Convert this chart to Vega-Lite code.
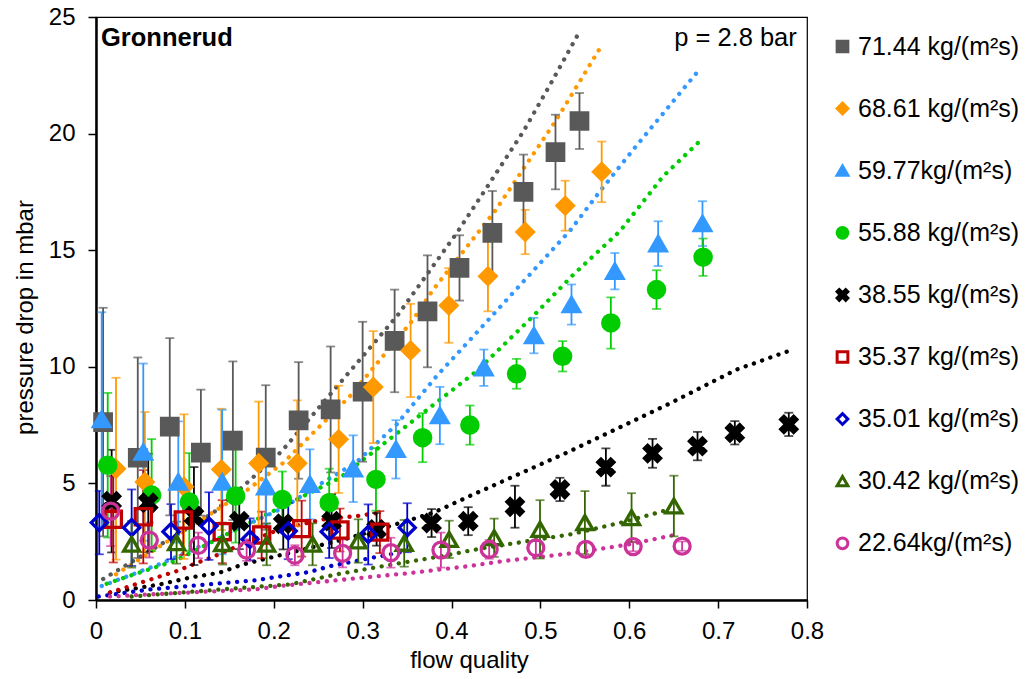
{
  "$schema": "https://vega.github.io/schema/vega-lite/v6.json",
  "width": 711,
  "height": 583,
  "autosize": {"type": "none"},
  "padding": {"left": 96, "top": 17, "right": 220, "bottom": 79},
  "background": "white",
  "datasets": {
    "pts": [
      {"s": "71.44 kg/(m²s)", "x": 0.008, "y": 7.63, "e": 4.9},
      {"s": "71.44 kg/(m²s)", "x": 0.047, "y": 6.10, "e": 4.3},
      {"s": "71.44 kg/(m²s)", "x": 0.083, "y": 7.43, "e": 3.8},
      {"s": "71.44 kg/(m²s)", "x": 0.118, "y": 6.32, "e": 2.7},
      {"s": "71.44 kg/(m²s)", "x": 0.154, "y": 6.83, "e": 3.4},
      {"s": "71.44 kg/(m²s)", "x": 0.191, "y": 6.11, "e": 3.1},
      {"s": "71.44 kg/(m²s)", "x": 0.228, "y": 7.70, "e": 2.5},
      {"s": "71.44 kg/(m²s)", "x": 0.264, "y": 8.17, "e": 2.7},
      {"s": "71.44 kg/(m²s)", "x": 0.300, "y": 8.93, "e": 3.0},
      {"s": "71.44 kg/(m²s)", "x": 0.336, "y": 11.11, "e": 2.2},
      {"s": "71.44 kg/(m²s)", "x": 0.373, "y": 12.38, "e": 2.4},
      {"s": "71.44 kg/(m²s)", "x": 0.409, "y": 14.24, "e": 1.4},
      {"s": "71.44 kg/(m²s)", "x": 0.446, "y": 15.74, "e": 1.8},
      {"s": "71.44 kg/(m²s)", "x": 0.481, "y": 17.50, "e": 1.6},
      {"s": "71.44 kg/(m²s)", "x": 0.517, "y": 19.21, "e": 1.6},
      {"s": "71.44 kg/(m²s)", "x": 0.544, "y": 20.54, "e": 1.2},
      {"s": "68.61 kg/(m²s)", "x": 0.0225, "y": 5.63, "e": 3.9},
      {"s": "68.61 kg/(m²s)", "x": 0.055, "y": 5.06, "e": 3.0},
      {"s": "68.61 kg/(m²s)", "x": 0.099, "y": 4.86, "e": 3.1},
      {"s": "68.61 kg/(m²s)", "x": 0.141, "y": 5.60, "e": 2.6},
      {"s": "68.61 kg/(m²s)", "x": 0.183, "y": 5.86, "e": 2.65},
      {"s": "68.61 kg/(m²s)", "x": 0.2265, "y": 5.86, "e": 2.7},
      {"s": "68.61 kg/(m²s)", "x": 0.273, "y": 6.89, "e": 2.3},
      {"s": "68.61 kg/(m²s)", "x": 0.312, "y": 9.13, "e": 2.4},
      {"s": "68.61 kg/(m²s)", "x": 0.354, "y": 10.70, "e": 2.0},
      {"s": "68.61 kg/(m²s)", "x": 0.397, "y": 12.63, "e": 1.6},
      {"s": "68.61 kg/(m²s)", "x": 0.441, "y": 13.88, "e": 1.5},
      {"s": "68.61 kg/(m²s)", "x": 0.483, "y": 15.78, "e": 0.95},
      {"s": "68.61 kg/(m²s)", "x": 0.528, "y": 16.91, "e": 1.07},
      {"s": "68.61 kg/(m²s)", "x": 0.569, "y": 18.36, "e": 1.3},
      {"s": "59.77kg/(m²s)", "x": 0.0064, "y": 7.74, "e": 4.6},
      {"s": "59.77kg/(m²s)", "x": 0.0532, "y": 6.34, "e": 3.8},
      {"s": "59.77kg/(m²s)", "x": 0.0926, "y": 5.06, "e": 2.6},
      {"s": "59.77kg/(m²s)", "x": 0.142, "y": 5.06, "e": 3.1},
      {"s": "59.77kg/(m²s)", "x": 0.1912, "y": 4.86, "e": 1.6},
      {"s": "59.77kg/(m²s)", "x": 0.2407, "y": 4.96, "e": 1.5},
      {"s": "59.77kg/(m²s)", "x": 0.2894, "y": 5.63, "e": 1.43},
      {"s": "59.77kg/(m²s)", "x": 0.3375, "y": 6.46, "e": 1.25},
      {"s": "59.77kg/(m²s)", "x": 0.3869, "y": 7.91, "e": 1.23},
      {"s": "59.77kg/(m²s)", "x": 0.4364, "y": 9.96, "e": 0.78},
      {"s": "59.77kg/(m²s)", "x": 0.4927, "y": 11.34, "e": 0.76},
      {"s": "59.77kg/(m²s)", "x": 0.535, "y": 12.67, "e": 0.86},
      {"s": "59.77kg/(m²s)", "x": 0.5838, "y": 14.10, "e": 0.78},
      {"s": "59.77kg/(m²s)", "x": 0.6325, "y": 15.28, "e": 0.96},
      {"s": "59.77kg/(m²s)", "x": 0.6824, "y": 16.14, "e": 0.96},
      {"s": "55.88 kg/(m²s)", "x": 0.0132, "y": 5.78, "e": 3.1},
      {"s": "55.88 kg/(m²s)", "x": 0.0626, "y": 4.50, "e": 2.4},
      {"s": "55.88 kg/(m²s)", "x": 0.105, "y": 4.20, "e": 2.1},
      {"s": "55.88 kg/(m²s)", "x": 0.1571, "y": 4.46, "e": 2.0},
      {"s": "55.88 kg/(m²s)", "x": 0.2096, "y": 4.31, "e": 1.2},
      {"s": "55.88 kg/(m²s)", "x": 0.2624, "y": 4.17, "e": 1.46},
      {"s": "55.88 kg/(m²s)", "x": 0.315, "y": 5.17, "e": 1.34},
      {"s": "55.88 kg/(m²s)", "x": 0.3675, "y": 6.96, "e": 1.05},
      {"s": "55.88 kg/(m²s)", "x": 0.4207, "y": 7.50, "e": 0.84},
      {"s": "55.88 kg/(m²s)", "x": 0.4732, "y": 9.70, "e": 0.64},
      {"s": "55.88 kg/(m²s)", "x": 0.525, "y": 10.45, "e": 0.65},
      {"s": "55.88 kg/(m²s)", "x": 0.5793, "y": 11.88, "e": 1.1},
      {"s": "55.88 kg/(m²s)", "x": 0.6307, "y": 13.31, "e": 0.83},
      {"s": "55.88 kg/(m²s)", "x": 0.6831, "y": 14.70, "e": 0.8},
      {"s": "38.55 kg/(m²s)", "x": 0.0176, "y": 4.24, "e": 2.2},
      {"s": "38.55 kg/(m²s)", "x": 0.0588, "y": 4.17, "e": 2.1},
      {"s": "38.55 kg/(m²s)", "x": 0.1102, "y": 3.60, "e": 2.1},
      {"s": "38.55 kg/(m²s)", "x": 0.1612, "y": 3.38, "e": 1.2},
      {"s": "38.55 kg/(m²s)", "x": 0.2107, "y": 3.27, "e": 1.1},
      {"s": "38.55 kg/(m²s)", "x": 0.2651, "y": 3.38, "e": 1.15},
      {"s": "38.55 kg/(m²s)", "x": 0.3157, "y": 3.03, "e": 0.7},
      {"s": "38.55 kg/(m²s)", "x": 0.3776, "y": 3.30, "e": 0.6},
      {"s": "38.55 kg/(m²s)", "x": 0.4188, "y": 3.38, "e": 0.6},
      {"s": "38.55 kg/(m²s)", "x": 0.4714, "y": 4.00, "e": 0.9},
      {"s": "38.55 kg/(m²s)", "x": 0.522, "y": 4.74, "e": 0.5},
      {"s": "38.55 kg/(m²s)", "x": 0.5737, "y": 5.70, "e": 0.8},
      {"s": "38.55 kg/(m²s)", "x": 0.6262, "y": 6.29, "e": 0.62},
      {"s": "38.55 kg/(m²s)", "x": 0.6768, "y": 6.60, "e": 0.61},
      {"s": "38.55 kg/(m²s)", "x": 0.7188, "y": 7.17, "e": 0.5},
      {"s": "38.55 kg/(m²s)", "x": 0.7795, "y": 7.53, "e": 0.5},
      {"s": "35.37 kg/(m²s)", "x": 0.0195, "y": 3.46, "e": 1.85},
      {"s": "35.37 kg/(m²s)", "x": 0.0532, "y": 3.57, "e": 2.0},
      {"s": "35.37 kg/(m²s)", "x": 0.0982, "y": 3.43, "e": 1.5},
      {"s": "35.37 kg/(m²s)", "x": 0.142, "y": 2.93, "e": 1.35},
      {"s": "35.37 kg/(m²s)", "x": 0.1864, "y": 2.79, "e": 1.0},
      {"s": "35.37 kg/(m²s)", "x": 0.2314, "y": 3.06, "e": 1.2},
      {"s": "35.37 kg/(m²s)", "x": 0.2745, "y": 3.00, "e": 0.92},
      {"s": "35.37 kg/(m²s)", "x": 0.3194, "y": 2.91, "e": 0.9},
      {"s": "35.01 kg/(m²s)", "x": 0.0037, "y": 3.32, "e": 1.36},
      {"s": "35.01 kg/(m²s)", "x": 0.0401, "y": 3.10, "e": 1.64},
      {"s": "35.01 kg/(m²s)", "x": 0.0844, "y": 2.93, "e": 1.18},
      {"s": "35.01 kg/(m²s)", "x": 0.1271, "y": 3.17, "e": 1.45},
      {"s": "35.01 kg/(m²s)", "x": 0.1732, "y": 2.60, "e": 0.9},
      {"s": "35.01 kg/(m²s)", "x": 0.2163, "y": 2.96, "e": 1.21},
      {"s": "35.01 kg/(m²s)", "x": 0.2624, "y": 2.93, "e": 1.13},
      {"s": "35.01 kg/(m²s)", "x": 0.3063, "y": 2.81, "e": 1.29},
      {"s": "35.01 kg/(m²s)", "x": 0.3502, "y": 3.10, "e": 1.05},
      {"s": "30.42 kg/(m²s)", "x": 0.0401, "y": 2.39, "e": 1.0},
      {"s": "30.42 kg/(m²s)", "x": 0.0907, "y": 2.46, "e": 0.9},
      {"s": "30.42 kg/(m²s)", "x": 0.1425, "y": 2.42, "e": 0.9},
      {"s": "30.42 kg/(m²s)", "x": 0.192, "y": 2.39, "e": 0.9},
      {"s": "30.42 kg/(m²s)", "x": 0.2437, "y": 2.39, "e": 0.9},
      {"s": "30.42 kg/(m²s)", "x": 0.2951, "y": 2.53, "e": 0.93},
      {"s": "30.42 kg/(m²s)", "x": 0.3468, "y": 2.43, "e": 1.0},
      {"s": "30.42 kg/(m²s)", "x": 0.3974, "y": 2.60, "e": 0.8},
      {"s": "30.42 kg/(m²s)", "x": 0.448, "y": 2.67, "e": 0.82},
      {"s": "30.42 kg/(m²s)", "x": 0.4996, "y": 3.03, "e": 1.25},
      {"s": "30.42 kg/(m²s)", "x": 0.5501, "y": 3.32, "e": 1.35},
      {"s": "30.42 kg/(m²s)", "x": 0.6026, "y": 3.53, "e": 1.05},
      {"s": "30.42 kg/(m²s)", "x": 0.6502, "y": 4.03, "e": 1.3},
      {"s": "22.64kg/(m²s)", "x": 0.0165, "y": 3.81, "e": 1.5},
      {"s": "22.64kg/(m²s)", "x": 0.06, "y": 2.57, "e": 0.75},
      {"s": "22.64kg/(m²s)", "x": 0.1151, "y": 2.34, "e": 0.55},
      {"s": "22.64kg/(m²s)", "x": 0.1695, "y": 2.14, "e": 0.46},
      {"s": "22.64kg/(m²s)", "x": 0.2238, "y": 1.92, "e": 0.43},
      {"s": "22.64kg/(m²s)", "x": 0.2775, "y": 2.00, "e": 0.6},
      {"s": "22.64kg/(m²s)", "x": 0.3318, "y": 2.03, "e": 0.64},
      {"s": "22.64kg/(m²s)", "x": 0.3881, "y": 2.14, "e": 0.75},
      {"s": "22.64kg/(m²s)", "x": 0.4424, "y": 2.17, "e": 0.4},
      {"s": "22.64kg/(m²s)", "x": 0.4949, "y": 2.24, "e": 0.3},
      {"s": "22.64kg/(m²s)", "x": 0.5512, "y": 2.17, "e": 0.3},
      {"s": "22.64kg/(m²s)", "x": 0.6044, "y": 2.29, "e": 0.2},
      {"s": "22.64kg/(m²s)", "x": 0.6595, "y": 2.31, "e": 0.2}
    ],
    "fit": [
      {"s": "71.44 kg/(m²s)", "x": 0.008, "y": 0.9},
      {"s": "71.44 kg/(m²s)", "x": 0.132, "y": 3.74},
      {"s": "71.44 kg/(m²s)", "x": 0.168, "y": 4.96},
      {"s": "71.44 kg/(m²s)", "x": 0.209, "y": 6.38},
      {"s": "71.44 kg/(m²s)", "x": 0.339, "y": 12.19},
      {"s": "71.44 kg/(m²s)", "x": 0.406, "y": 15.74},
      {"s": "71.44 kg/(m²s)", "x": 0.443, "y": 17.88},
      {"s": "71.44 kg/(m²s)", "x": 0.481, "y": 20.1},
      {"s": "71.44 kg/(m²s)", "x": 0.511, "y": 22.1},
      {"s": "71.44 kg/(m²s)", "x": 0.541, "y": 24.16},
      {"s": "68.61 kg/(m²s)", "x": 0.0225, "y": 1.1},
      {"s": "68.61 kg/(m²s)", "x": 0.166, "y": 4.6},
      {"s": "68.61 kg/(m²s)", "x": 0.211, "y": 5.89},
      {"s": "68.61 kg/(m²s)", "x": 0.2445, "y": 7.17},
      {"s": "68.61 kg/(m²s)", "x": 0.2857, "y": 8.74},
      {"s": "68.61 kg/(m²s)", "x": 0.357, "y": 12.03},
      {"s": "68.61 kg/(m²s)", "x": 0.3794, "y": 13.31},
      {"s": "68.61 kg/(m²s)", "x": 0.4488, "y": 16.67},
      {"s": "68.61 kg/(m²s)", "x": 0.5182, "y": 20.6},
      {"s": "68.61 kg/(m²s)", "x": 0.5688, "y": 23.77},
      {"s": "59.77kg/(m²s)", "x": 0.0064, "y": 0.6},
      {"s": "59.77kg/(m²s)", "x": 0.0757, "y": 1.6},
      {"s": "59.77kg/(m²s)", "x": 0.14, "y": 2.7},
      {"s": "59.77kg/(m²s)", "x": 0.211, "y": 3.96},
      {"s": "59.77kg/(m²s)", "x": 0.2482, "y": 4.88},
      {"s": "59.77kg/(m²s)", "x": 0.2925, "y": 5.89},
      {"s": "59.77kg/(m²s)", "x": 0.3382, "y": 7.53},
      {"s": "59.77kg/(m²s)", "x": 0.3832, "y": 9.6},
      {"s": "59.77kg/(m²s)", "x": 0.4282, "y": 11.46},
      {"s": "59.77kg/(m²s)", "x": 0.534, "y": 15.87},
      {"s": "59.77kg/(m²s)", "x": 0.5669, "y": 17.52},
      {"s": "59.77kg/(m²s)", "x": 0.6044, "y": 19.31},
      {"s": "59.77kg/(m²s)", "x": 0.6757, "y": 22.6},
      {"s": "55.88 kg/(m²s)", "x": 0.012, "y": 0.7},
      {"s": "55.88 kg/(m²s)", "x": 0.09, "y": 1.7},
      {"s": "55.88 kg/(m²s)", "x": 0.1507, "y": 2.89},
      {"s": "55.88 kg/(m²s)", "x": 0.22, "y": 4.2},
      {"s": "55.88 kg/(m²s)", "x": 0.2745, "y": 5.24},
      {"s": "55.88 kg/(m²s)", "x": 0.325, "y": 6.74},
      {"s": "55.88 kg/(m²s)", "x": 0.3776, "y": 8.31},
      {"s": "55.88 kg/(m²s)", "x": 0.4282, "y": 9.81},
      {"s": "55.88 kg/(m²s)", "x": 0.4919, "y": 12.17},
      {"s": "55.88 kg/(m²s)", "x": 0.537, "y": 13.95},
      {"s": "55.88 kg/(m²s)", "x": 0.5894, "y": 15.81},
      {"s": "55.88 kg/(m²s)", "x": 0.6381, "y": 18.17},
      {"s": "55.88 kg/(m²s)", "x": 0.6831, "y": 19.81},
      {"s": "38.55 kg/(m²s)", "x": 0.0157, "y": 0.32},
      {"s": "38.55 kg/(m²s)", "x": 0.072, "y": 0.67},
      {"s": "38.55 kg/(m²s)", "x": 0.1057, "y": 0.96},
      {"s": "38.55 kg/(m²s)", "x": 0.139, "y": 1.17},
      {"s": "38.55 kg/(m²s)", "x": 0.1657, "y": 1.53},
      {"s": "38.55 kg/(m²s)", "x": 0.282, "y": 2.63},
      {"s": "38.55 kg/(m²s)", "x": 0.3307, "y": 3.17},
      {"s": "38.55 kg/(m²s)", "x": 0.3794, "y": 3.74},
      {"s": "38.55 kg/(m²s)", "x": 0.4207, "y": 4.46},
      {"s": "38.55 kg/(m²s)", "x": 0.5332, "y": 6.38},
      {"s": "38.55 kg/(m²s)", "x": 0.6457, "y": 8.43},
      {"s": "38.55 kg/(m²s)", "x": 0.7207, "y": 9.88},
      {"s": "38.55 kg/(m²s)", "x": 0.7788, "y": 10.67},
      {"s": "35.37 kg/(m²s)", "x": 0.0157, "y": 0.32},
      {"s": "35.37 kg/(m²s)", "x": 0.0907, "y": 1.24},
      {"s": "35.37 kg/(m²s)", "x": 0.1357, "y": 1.92},
      {"s": "35.37 kg/(m²s)", "x": 0.1732, "y": 2.53},
      {"s": "35.37 kg/(m²s)", "x": 0.207, "y": 3.03},
      {"s": "35.37 kg/(m²s)", "x": 0.2557, "y": 3.46},
      {"s": "35.37 kg/(m²s)", "x": 0.2932, "y": 3.6},
      {"s": "35.37 kg/(m²s)", "x": 0.32, "y": 3.75},
      {"s": "35.01 kg/(m²s)", "x": 0.003, "y": 0.15},
      {"s": "35.01 kg/(m²s)", "x": 0.06, "y": 0.45},
      {"s": "35.01 kg/(m²s)", "x": 0.12, "y": 0.65},
      {"s": "35.01 kg/(m²s)", "x": 0.18, "y": 0.85},
      {"s": "35.01 kg/(m²s)", "x": 0.21, "y": 1.03},
      {"s": "35.01 kg/(m²s)", "x": 0.24, "y": 1.2},
      {"s": "35.01 kg/(m²s)", "x": 0.2632, "y": 1.45},
      {"s": "35.01 kg/(m²s)", "x": 0.3157, "y": 1.85},
      {"s": "35.01 kg/(m²s)", "x": 0.35, "y": 2.1},
      {"s": "30.42 kg/(m²s)", "x": 0.04, "y": 0.15},
      {"s": "30.42 kg/(m²s)", "x": 0.1432, "y": 0.46},
      {"s": "30.42 kg/(m²s)", "x": 0.2182, "y": 0.67},
      {"s": "30.42 kg/(m²s)", "x": 0.2707, "y": 1.1},
      {"s": "30.42 kg/(m²s)", "x": 0.3344, "y": 1.53},
      {"s": "30.42 kg/(m²s)", "x": 0.3907, "y": 1.89},
      {"s": "30.42 kg/(m²s)", "x": 0.432, "y": 2.2},
      {"s": "30.42 kg/(m²s)", "x": 0.5332, "y": 2.81},
      {"s": "30.42 kg/(m²s)", "x": 0.5932, "y": 3.34},
      {"s": "30.42 kg/(m²s)", "x": 0.6457, "y": 3.89},
      {"s": "22.64kg/(m²s)", "x": 0.0157, "y": 0.15},
      {"s": "22.64kg/(m²s)", "x": 0.087, "y": 0.29},
      {"s": "22.64kg/(m²s)", "x": 0.181, "y": 0.46},
      {"s": "22.64kg/(m²s)", "x": 0.207, "y": 0.6},
      {"s": "22.64kg/(m²s)", "x": 0.282, "y": 0.89},
      {"s": "22.64kg/(m²s)", "x": 0.357, "y": 1.17},
      {"s": "22.64kg/(m²s)", "x": 0.4207, "y": 1.46},
      {"s": "22.64kg/(m²s)", "x": 0.4582, "y": 1.67},
      {"s": "22.64kg/(m²s)", "x": 0.5332, "y": 1.99},
      {"s": "22.64kg/(m²s)", "x": 0.6007, "y": 2.39},
      {"s": "22.64kg/(m²s)", "x": 0.6532, "y": 2.81}
    ],
    "notes": [
      {"label": "Gronnerud", "x": 0.0056, "y": 23.77, "kind": "name"},
      {"label": "p = 2.8 bar", "x": 0.7885, "y": 23.77, "kind": "pressure"}
    ]
  },
  "encoding": {
    "x": {"field": "x", "type": "quantitative", "scale": {"domain": [0, 0.8], "nice": false, "zero": false},
          "axis": {"title": "flow quality", "values": [0, 0.1, 0.2, 0.3, 0.4, 0.5, 0.6, 0.7, 0.8], "format": ".1~f", "titleX": 373}},
    "y": {"field": "y", "type": "quantitative", "scale": {"domain": [0, 25], "nice": false},
          "axis": {"title": "pressure drop in mbar", "values": [0, 5, 10, 15, 20, 25], "format": "d", "titleY": 300}}
  },
  "layer": [
    {
      "data": {"name": "fit"},
      "mark": {"type": "line", "strokeDash": [0.1, 8.6], "strokeCap": "round", "strokeWidth": 4.3},
      "encoding": {
        "color": {"field": "s", "type": "nominal", "legend": null,
          "scale": {"domain": ["22.64kg/(m²s)", "30.42 kg/(m²s)", "35.01 kg/(m²s)", "35.37 kg/(m²s)", "38.55 kg/(m²s)", "55.88 kg/(m²s)", "59.77kg/(m²s)", "68.61 kg/(m²s)", "71.44 kg/(m²s)"],
                    "range": ["#CC3399", "#336600", "#0000CC", "#C00000", "#000000", "#00CC00", "#3399FF", "#FF9900", "#595959"]}}
      }
    },
    {
      "data": {"name": "pts"},
      "mark": {"type": "errorbar", "ticks": {"size": 9, "thickness": 1.8}, "rule": {"strokeWidth": 1.8}},
      "encoding": {
        "yError": {"field": "e"},
        "color": {"field": "s", "type": "nominal", "legend": null}
      }
    },
    {
      "data": {"name": "pts"},
      "mark": {"type": "point", "filled": true, "strokeWidth": 3.3, "opacity": 1},
      "encoding": {
        "fill": {"field": "s", "type": "nominal",
          "scale": {"domain": ["71.44 kg/(m²s)", "68.61 kg/(m²s)", "59.77kg/(m²s)", "55.88 kg/(m²s)", "38.55 kg/(m²s)", "35.37 kg/(m²s)", "35.01 kg/(m²s)", "30.42 kg/(m²s)", "22.64kg/(m²s)"],
                    "range": ["#595959", "#FF9900", "#3399FF", "#00CC00", "#000000", "transparent", "transparent", "transparent", "transparent"]},
          "legend": {"title": null, "orient": "none", "legendX": 734, "legendY": 17}},
        "stroke": {"field": "s", "type": "nominal",
          "scale": {"domain": ["71.44 kg/(m²s)", "68.61 kg/(m²s)", "59.77kg/(m²s)", "55.88 kg/(m²s)", "38.55 kg/(m²s)", "35.37 kg/(m²s)", "35.01 kg/(m²s)", "30.42 kg/(m²s)", "22.64kg/(m²s)"],
                    "range": ["#595959", "#FF9900", "#3399FF", "#00CC00", "#000000", "#C00000", "#0000CC", "#336600", "#CC3399"]},
          "legend": {"title": null, "orient": "none", "legendX": 734, "legendY": 17}},
        "shape": {"field": "s", "type": "nominal",
          "scale": {"domain": ["71.44 kg/(m²s)", "68.61 kg/(m²s)", "59.77kg/(m²s)", "55.88 kg/(m²s)", "38.55 kg/(m²s)", "35.37 kg/(m²s)", "35.01 kg/(m²s)", "30.42 kg/(m²s)", "22.64kg/(m²s)"],
                    "range": ["square", "diamond", "triangle-up", "circle", "M-1,-0.6L-0.6,-1L0,-0.4L0.6,-1L1,-0.6L0.4,0L1,0.6L0.6,1L0,0.4L-0.6,1L-1,0.6L-0.4,0Z", "square", "diamond", "triangle-up", "circle"]},
          "legend": {"title": null, "orient": "none", "legendX": 734, "legendY": 17}},
        "size": {"field": "s", "type": "ordinal", "legend": null,
          "scale": {"domain": ["22.64kg/(m²s)", "30.42 kg/(m²s)", "35.01 kg/(m²s)", "35.37 kg/(m²s)", "38.55 kg/(m²s)", "55.88 kg/(m²s)", "59.77kg/(m²s)", "68.61 kg/(m²s)", "71.44 kg/(m²s)"],
                    "range": [255, 270, 300, 250, 290, 170, 215, 200, 215]}}
      }
    },
    {
      "data": {"name": "notes"},
      "transform": [{"filter": "datum.kind === 'name'"}],
      "mark": {"type": "text", "align": "left", "baseline": "alphabetic", "font": "Liberation Sans", "fontSize": 25.5, "fontWeight": "bold", "color": "black"},
      "encoding": {
        "text": {"field": "label"}
      }
    },
    {
      "data": {"name": "notes"},
      "transform": [{"filter": "datum.kind === 'pressure'"}],
      "mark": {"type": "text", "align": "right", "baseline": "alphabetic", "font": "Liberation Sans", "fontSize": 25.5, "color": "black"},
      "encoding": {
        "text": {"field": "label"}
      }
    }
  ],
  "config": {
    "font": "Liberation Sans",
    "view": {"stroke": "black", "strokeWidth": 1.2},
    "axis": {
      "grid": false,
      "domainColor": "black",
      "domainWidth": 2.5,
      "tickColor": "black",
      "tickWidth": 1.5,
      "tickSize": 8,
      "labelFont": "Liberation Sans",
      "labelFontSize": 24,
      "labelColor": "black",
      "titleFont": "Liberation Sans",
      "titleFontSize": 24,
      "titleFontWeight": "normal",
      "titleColor": "black"
    },
    "axisX": {"labelPadding": 11, "titlePadding": 5, "labelFlush": false},
    "axisY": {"labelPadding": 13, "titlePadding": 11},
    "legend": {
      "labelFont": "Liberation Sans",
      "labelFontSize": 25,
      "labelColor": "black",
      "labelLimit": 300,
      "rowPadding": 36.1,
      "symbolSize": 115,
      "symbolStrokeWidth": 3,
      "padding": 0,
      "labelOffset": 3
    }
  }
}
